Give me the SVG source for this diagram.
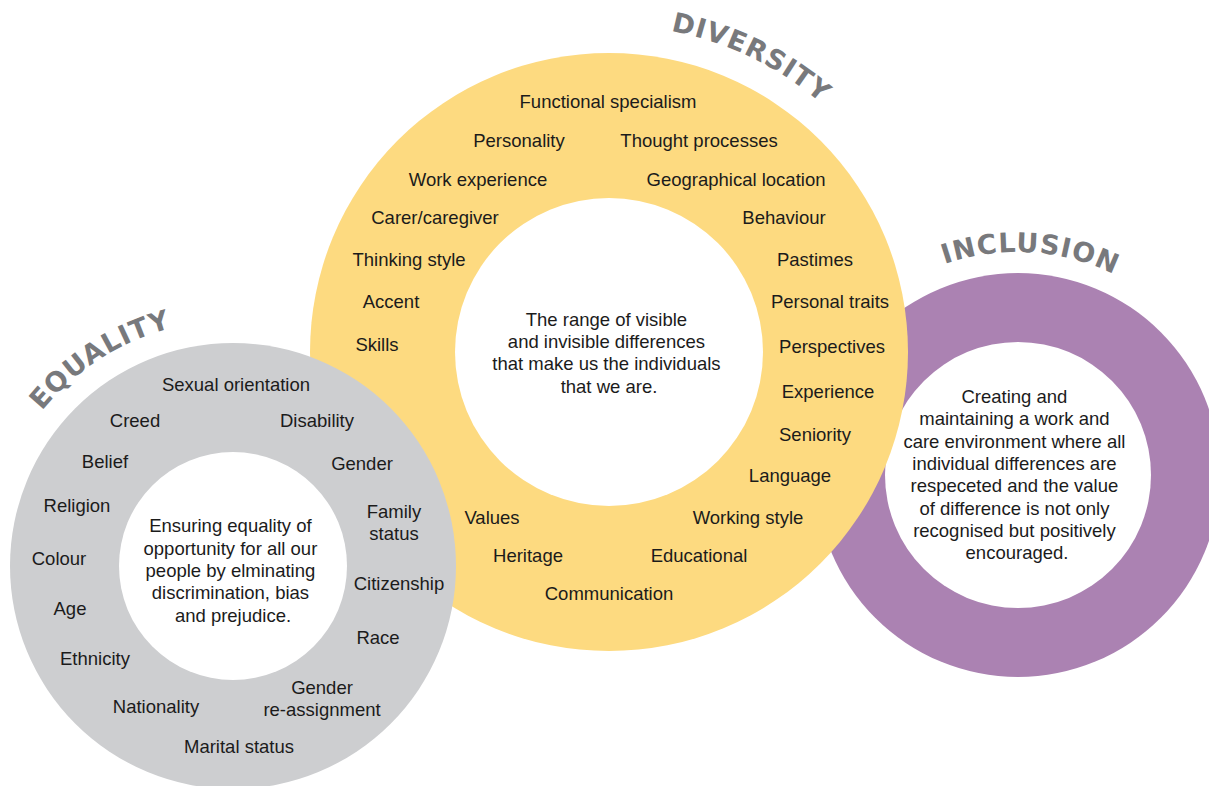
<svg xmlns="http://www.w3.org/2000/svg" width="1209" height="786" viewBox="0 0 1209 786">
<defs>
<style>
.lbl{font-family:"Liberation Sans",Arial,Helvetica,sans-serif;font-size:18.5px;fill:#1b1b1b;text-anchor:middle}
.ttl{font-family:"DejaVu Sans",sans-serif;font-weight:bold;font-size:27px;fill:#78797c;letter-spacing:1px;text-anchor:middle}
.hole{fill:#ffffff}
</style>
<path id="arcDiv" d="M528.2,35.1 A327,327 0 0,1 907,217.4" fill="none"/>
<path id="arcEq" d="M-1.9,492.8 A246,246 0 0,1 264.3,322" fill="none"/>
<path id="arcInc" d="M885,295.5 A222,222 0 0,1 1169.8,313" fill="none"/>
</defs>
<rect width="1209" height="786" fill="#ffffff"/>

<g id="inclusion">
<circle cx="1018" cy="475" r="202" fill="#ab82b2"/>
<circle class="hole" cx="1018" cy="475" r="133"/>
<text class="ttl"><textPath href="#arcInc" startOffset="50%">INCLUSION</textPath></text>
<text class="lbl">
<tspan x="1017" y="403">Creating and</tspan>
<tspan x="1017" y="425">maintaining a work and</tspan>
<tspan x="1017" y="448">care environment where all</tspan>
<tspan x="1017" y="470">individual differences are</tspan>
<tspan x="1017" y="492">respeceted and the value</tspan>
<tspan x="1017" y="515">of difference is not only</tspan>
<tspan x="1017" y="537">recognised but positively</tspan>
<tspan x="1017" y="559">encouraged.</tspan>
</text>
</g>

<g id="diversity">
<circle cx="609" cy="352" r="299" fill="#fdda80"/>
<circle class="hole" cx="609" cy="352" r="154"/>
<text class="ttl"><textPath href="#arcDiv" startOffset="50%">DIVERSITY</textPath></text>
<text class="lbl" x="608" y="108">Functional specialism</text>
<text class="lbl" x="519" y="147">Personality</text>
<text class="lbl" x="699" y="147">Thought processes</text>
<text class="lbl" x="478" y="186">Work experience</text>
<text class="lbl" x="736" y="186">Geographical location</text>
<text class="lbl" x="435" y="224">Carer/caregiver</text>
<text class="lbl" x="784" y="224">Behaviour</text>
<text class="lbl" x="409" y="266">Thinking style</text>
<text class="lbl" x="815" y="266">Pastimes</text>
<text class="lbl" x="391" y="308">Accent</text>
<text class="lbl" x="830" y="308">Personal traits</text>
<text class="lbl" x="377" y="351">Skills</text>
<text class="lbl" x="832" y="353">Perspectives</text>
<text class="lbl" x="828" y="398">Experience</text>
<text class="lbl" x="815" y="441">Seniority</text>
<text class="lbl" x="790" y="482">Language</text>
<text class="lbl" x="748" y="524">Working style</text>
<text class="lbl" x="699" y="562">Educational</text>
<text class="lbl" x="492" y="524">Values</text>
<text class="lbl" x="528" y="562">Heritage</text>
<text class="lbl" x="609" y="600">Communication</text>
<text class="lbl">
<tspan x="609" y="326">The range of visible</tspan>
<tspan x="609" y="348">and invisible differences</tspan>
<tspan x="609" y="370">that make us the individuals</tspan>
<tspan x="609" y="393">that we are.</tspan>
</text>
</g>

<g id="equality">
<circle cx="233" cy="566" r="223" fill="#cdced0"/>
<circle class="hole" cx="233" cy="566" r="114"/>
<text class="ttl"><textPath href="#arcEq" startOffset="50%">EQUALITY</textPath></text>
<text class="lbl" x="236" y="391">Sexual orientation</text>
<text class="lbl" x="135" y="427">Creed</text>
<text class="lbl" x="317" y="427">Disability</text>
<text class="lbl" x="105" y="468">Belief</text>
<text class="lbl" x="362" y="470">Gender</text>
<text class="lbl" x="77" y="512">Religion</text>
<text class="lbl" x="394" y="518">Family</text>
<text class="lbl" x="394" y="540">status</text>
<text class="lbl" x="59" y="565">Colour</text>
<text class="lbl" x="399" y="590">Citizenship</text>
<text class="lbl" x="70" y="615">Age</text>
<text class="lbl" x="378" y="644">Race</text>
<text class="lbl" x="95" y="665">Ethnicity</text>
<text class="lbl" x="322" y="694">Gender</text>
<text class="lbl" x="322" y="716">re-assignment</text>
<text class="lbl" x="156" y="713">Nationality</text>
<text class="lbl" x="239" y="753">Marital status</text>
<text class="lbl">
<tspan x="233" y="532">Ensuring equality of</tspan>
<tspan x="233" y="555">opportunity for all our</tspan>
<tspan x="233" y="577">people by elminating</tspan>
<tspan x="233" y="599">discrimination, bias</tspan>
<tspan x="233" y="622">and prejudice.</tspan>
</text>
</g>

<g id="connectors"></g>
</svg>
